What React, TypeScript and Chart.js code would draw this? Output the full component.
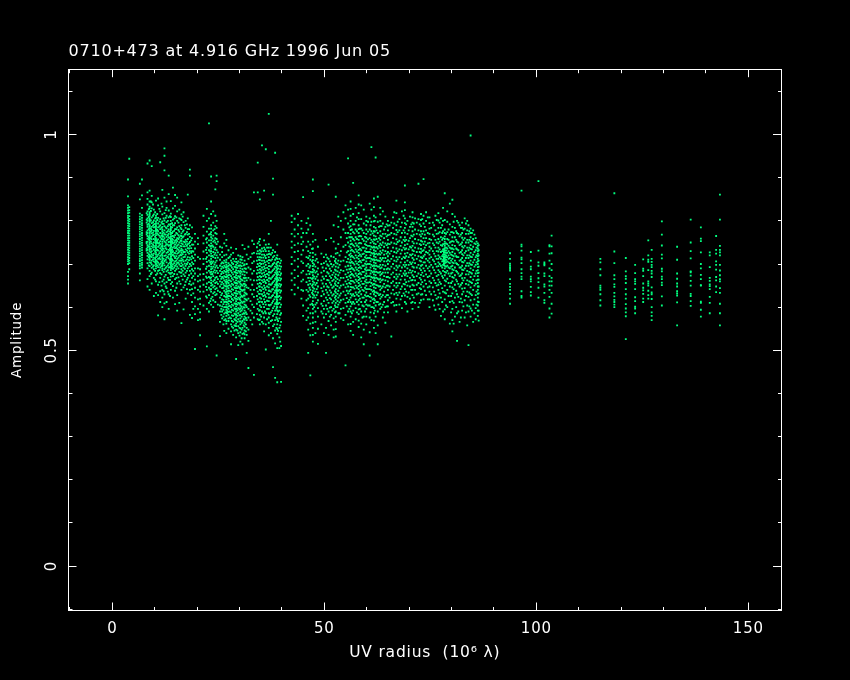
import React, { useEffect, useRef } from "react";
import { Chart, registerables } from "chart.js";

Chart.register(...registerables);

type Track = [number, number[]];

const chartTitle = "0710+473 at 4.916 GHz 1996 Jun 05";
const xLabel = "UV radius  (10\u2076 \u03bb)";
const yLabel = "Amplitude";

// Each track: UV radius, then amplitudes in thousandths.
const bandNear: Track[] = [
  [3.7, [655,664,672,682,700,706,711,716,722,727,733,738,744,749,755,760,766,772,777,783,789,795,801,807,812,818,824,830,836,857,896]],
  [4.0, [688,702,708,714,720,726,731,737,743,749,754,760,766,771,777,782,788,793,799,804,811,819,825,832,944]],
  [6.5, [662,678,690,696,701,707,712,718,724,730,735,741,747,752,758,764,769,775,781,786,792,798,804,810,817,850,886]],
  [7.0, [692,698,703,709,715,721,726,732,738,744,749,755,761,767,772,778,784,790,795,801,807,813,830,859,896]],
  [8.3, [648,665,690,702,711,719,726,733,739,744,752,759,765,772,778,786,791,800,806,814,822,838,851,866,933]],
  [8.8, [640,672,684,695,704,712,721,729,737,746,754,762,770,778,783,790,798,805,812,820,833,845,870,940]],
  [9.3, [655,680,691,699,708,716,723,730,741,748,757,764,771,779,786,795,808,829,843,858,927]],
  [9.8, [626,668,688,697,706,715,724,733,742,750,758,768,777,785,792,801,815,826]],
  [10.3, [633,660,675,690,700,709,716,726,735,744,751,760,767,775,782,790,799,812,847]],
  [10.8, [581,628,652,684,693,703,712,722,731,740,748,757,768,776,785,794,807,836,852]],
  [11.3, [612,637,668,679,692,701,711,719,729,737,746,753,762,772,781,790,804,822,936]],
  [11.8, [600,622,640,660,690,700,708,716,725,736,744,752,763,771,780,793,815,833,872]],
  [12.3, [572,609,630,655,671,688,697,707,719,730,741,752,760,769,778,788,801,818,854,917,951,968]],
  [12.8, [612,644,658,683,694,704,715,726,734,746,755,763,774,783,797,812,830,845]],
  [13.3, [596,630,663,680,692,701,713,722,733,742,751,762,770,780,792,808,824,905,862]],
  [13.8, [640,654,671,686,698,709,717,728,739,749,758,768,779,786,800,817,846]],
  [14.3, [622,649,672,689,699,708,721,730,738,748,756,765,775,790,803,829,877]],
  [14.8, [607,638,665,684,696,706,714,725,737,745,754,767,781,795,811,835,860]],
  [15.3, [592,628,655,676,694,703,712,724,735,743,753,760,770,785,800,822,854]],
  [15.8, [610,660,682,699,708,719,729,738,750,762,775,788,806,826]],
  [16.3, [563,640,672,688,702,713,726,735,748,759,771,790,815,843]],
  [16.8, [595,646,676,692,706,716,728,741,752,764,778,797,820]],
  [17.3, [620,659,680,696,708,722,734,746,756,770,784,800]],
  [17.8, [632,668,690,704,716,727,737,746,758,768,781,806,861]],
  [18.3, [582,640,660,684,700,715,730,742,751,763,790,905,919]],
  [18.8, [575,612,642,668,688,704,718,730,745,760,785]],
  [19.5, [503,584,602,622,645,664,678,690,708,722,736,752,770]],
  [20.2, [570,596,618,640,660,672,690,716,746,760]],
  [20.7, [535,572,588,607,620,636,648,662,676,688,712]],
];

const bandNearCore: Track[] = [
  [8.1, [731,735,748,751,769,774,796,803,818]],
  [8.6, [697,716,723,741,757,762,781,793,809,827]],
  [9.1, [677,703,718,727,735,752,760,775,782,801,823,845]],
  [9.6, [694,711,720,738,745,767,773,789,797,812,838]],
  [10.1, [664,684,704,712,729,739,755,763,786,793,806,820]],
  [10.6, [678,697,706,718,733,750,754,771,779,802,816]],
  [11.1, [658,686,698,714,725,743,749,766,787,799,828]],
  [11.6, [650,676,695,705,722,733,741,758,766,784,796,840]],
  [12.1, [637,664,682,702,712,727,735,756,764,773,793,806]],
  [12.6, [648,675,691,710,720,737,743,750,768,785,807,825]],
  [13.1, [636,668,686,697,717,728,745,757,767,776,788,800]],
  [13.6, [626,663,678,693,704,710,723,731,736,744,752,760,775,791,811]],
  [13.9, [690,696,702,706,712,718,724,732,741,746,754,764,772]],
  [14.1, [658,680,694,711,727,734,751,759,772,785,795]],
  [14.6, [677,692,702,718,726,741,750,762,777,790,806]],
  [15.1, [645,668,688,699,708,718,730,739,749,756,772,781,808]],
  [15.6, [669,690,703,715,726,733,745,758,767,779,796]],
  [16.1, [654,680,695,708,721,731,742,754,766,784,804]],
  [16.6, [664,684,698,710,723,732,746,762,775,810]],
  [17.1, [651,672,689,701,717,728,741,751,768,790]],
  [17.6, [642,664,684,700,711,731,742,752,774,792]],
  [18.1, [654,674,694,709,724,736,748,770,781]],
  [18.6, [628,652,678,696,711,726,737,755]],
  [19.1, [596,632,655,672,684,700,714,729,745]],
];

const bandMid: Track[] = [
  [21.5, [604,636,652,664,677,700,712,729,748,766,786,812]],
  [22.3, [509,596,622,640,655,668,680,694,705,716,726,738,750,760,775,800,828]],
  [22.8, [590,610,628,645,658,670,684,696,708,720,732,744,755,768,782,806,1026]],
  [23.3, [606,620,636,650,662,676,688,700,712,724,736,748,762,774,790,816,845,903]],
  [23.8, [600,616,632,646,660,672,682,694,706,716,728,740,752,766,778,796,822]],
  [24.3, [612,628,642,656,668,680,692,704,714,726,738,750,760,772,788,812,873]],
  [24.6, [488,630,644,658,670,684,696,708,720,732,746,758,770,784,800,892,905]],
  [25.4, [533,566,590,604,622,635,648,660,672,684,696,710,722,740]],
  [25.9, [574,590,602,618,632,644,658,670,682,694,704,716,728,738]],
  [26.4, [545,570,585,600,612,626,638,650,662,672,684,696,708,720,748,770]],
  [26.9, [540,562,580,594,606,618,630,642,654,664,676,688,698,710,722,742,756]],
  [27.4, [550,568,582,596,608,620,632,644,656,668,680,690,702,714,732]],
  [28.0, [514,544,560,574,588,600,612,624,636,648,660,672,684,696,708,722,738]],
  [28.5, [536,552,566,580,592,604,616,628,640,652,664,676,688,700,712,726]],
  [29.2, [480,530,548,562,576,590,602,614,626,638,650,662,674,686,698,712,735]],
  [29.7, [512,540,556,572,586,598,610,622,636,648,660,672,684,696,706,720]],
  [30.2, [520,542,560,574,590,604,616,630,642,654,666,678,690,704,718]],
  [30.7, [514,538,552,568,584,596,610,624,638,650,662,676,688,702,716,744]],
  [31.2, [528,546,564,578,592,606,620,634,648,660,674,690,708,735]],
  [31.7, [494,536,552,570,584,600,616,630,646,662,680,700,722]],
  [32.1, [459,522,548,576,596,620,644,668,692,712,740]],
  [33.0, [560,586,606,630,652,678,702,724,754]],
  [33.4, [443,576,600,624,640,662,684,706,726,746,866]],
  [34.3, [572,596,618,636,654,670,686,700,716,730,748,866,935]],
  [34.8, [560,582,604,622,640,656,672,688,702,716,732,744,758,850]],
  [35.3, [566,590,612,630,646,662,678,692,708,722,736,975]],
  [35.8, [544,576,600,618,634,650,664,680,694,708,722,738,755,870]],
  [36.2, [502,560,586,606,624,640,656,670,684,698,714,730,745,966]],
  [36.9, [535,552,576,596,614,630,646,660,674,688,702,716,730,746,770,1048]],
  [37.4, [540,568,588,606,622,636,652,666,680,694,708,722,738,800]],
  [37.9, [461,528,556,580,598,614,628,642,658,672,686,700,716,732,898,861]],
  [38.4, [436,516,546,570,592,608,624,638,652,666,680,694,710,728,958]],
  [38.9, [426,505,538,560,584,600,616,632,646,660,674,688,704,720,745]],
  [39.4, [505,530,552,574,592,610,626,640,654,668,682,696,712]],
  [39.8, [427,510,544,566,586,606,622,638,652,666,678,694,708]],
];

const bandMidCore: Track[] = [
  [22.1, [625,647,671,689,712,733,757]],
  [23.1, [614,641,667,680,704,729,741,770]],
  [23.6, [624,652,677,690,703,719,743,759]],
  [24.1, [635,649,663,686,699,722,734,755,781]],
  [24.9, [606,638,654,665,679,691,715,727,752]],
  [25.7, [582,596,612,628,653,666,677,689,701]],
  [26.2, [560,578,594,607,617,645,654,667,679,691,702]],
  [26.7, [572,588,600,613,624,634,649,659,670,682,693,704]],
  [27.1, [586,591,599,611,624,627,637,648,659,672,684,694]],
  [27.7, [576,590,603,614,626,638,651,662,675,687,698,717]],
  [28.2, [555,568,581,594,606,619,630,642,654,667,680,692,703]],
  [28.8, [546,558,572,585,597,609,622,633,646,658,670,682,694,706]],
  [29.0, [557,570,583,596,608,620,632,644,656,669,681,693]],
  [29.5, [546,566,580,593,606,618,631,644,655,667,679,691,702]],
  [30.0, [534,552,567,581,595,608,619,634,645,658,670,682,696]],
  [30.5, [528,548,564,578,592,601,613,626,640,652,664,682,695,710]],
  [31.0, [540,558,572,586,600,613,627,640,654,668,683,697]],
  [31.5, [544,560,575,588,604,618,632,651,668,689]],
  [32.6, [570,592,614,640,664,688,716]],
  [34.1, [584,608,626,644,662,678,693,708,724,739]],
  [34.6, [570,592,612,631,648,664,680,695,710,724,752]],
  [35.1, [578,600,620,638,654,670,685,700,715,729]],
  [35.6, [562,586,607,626,642,658,672,687,701,715,730]],
  [36.0, [590,612,628,645,660,675,690,704,719,734]],
  [36.5, [572,596,615,632,648,663,677,691,706,722,738]],
  [37.1, [584,604,622,638,653,667,681,695,709,724]],
  [37.7, [570,592,610,626,641,655,669,683,697,711,726]],
  [38.2, [560,584,602,618,633,647,661,675,689,703,719]],
  [38.7, [552,576,596,610,622,634,642,650,656,664,670,678,684,692,700,714]],
  [38.8, [600,606,612,618,626,630,638,646,652,660,668,676]],
  [39.1, [545,568,590,608,624,638,650,663,676,690,705]],
  [39.6, [520,558,582,600,618,634,648,662,674,688,702]],
];

const bandFar: Track[] = [
  [42.3, [640,662,678,700,716,738,752,770,797,812]],
  [43.0, [630,652,668,686,708,728,744,764,780,805]],
  [43.8, [645,672,694,712,730,748,770,790,816]],
  [44.6, [620,640,660,680,706,722,746,762,782,800]],
  [45.0, [580,604,638,664,684,702,732,752,772,855]],
  [45.8, [570,592,616,640,658,676,696,716,740,772,795]],
  [46.2, [494,548,576,598,620,636,652,668,684,700,714,730,752,780,806]],
  [46.7, [442,535,562,586,606,624,640,654,668,682,696,710,726,745,790]],
  [47.3, [520,552,576,596,614,630,646,660,674,688,702,716,736,770,869,896]],
  [47.9, [540,566,590,606,622,636,652,666,680,694,708,722,756]],
  [48.5, [515,550,578,598,616,634,648,662,676,690,704,740]],
  [49.3, [560,590,608,626,644,662,680,700,724]],
  [49.9, [540,576,596,614,630,648,666,684,702,716]],
  [50.4, [494,552,584,604,622,640,654,672,690,706,722,756]],
  [51.0, [536,568,590,610,628,646,662,678,696,712,884]],
  [51.6, [558,582,600,618,634,652,668,684,700,718,760]],
  [52.2, [530,548,574,596,614,630,648,664,680,698,716,752,790]],
  [52.7, [532,566,590,610,626,642,660,676,694,712,736,856]],
  [53.3, [586,606,622,638,656,674,692,708,746,786,810]],
  [53.9, [574,596,616,632,650,668,686,706,730,762,800]],
  [54.5, [570,598,618,636,652,668,684,708,740,780,820]],
  [55.0, [465,582,610,628,646,660,676,694,716,744,772,806,836]],
  [55.6, [560,590,612,632,648,664,680,696,712,730,750,772,794,826,945]],
  [56.2, [545,578,602,622,640,654,668,682,696,710,724,738,754,770,788,812,845]],
  [56.8, [536,566,592,612,630,646,660,674,688,702,716,730,744,758,774,792,816,888]],
  [57.4, [572,598,618,634,650,664,678,692,706,720,734,748,762,780,800,830]],
  [58.1, [554,584,606,626,642,656,670,684,698,712,726,740,756,772,790,818,859]],
  [58.7, [530,562,590,612,630,646,660,676,690,704,718,732,748,764,782,804,836]],
  [59.3, [514,548,578,602,622,638,654,668,682,696,710,724,738,754,772,794,826]],
  [59.9, [560,596,616,634,650,664,678,692,706,720,736,752,770,790,810]],
  [60.7, [488,542,576,604,624,642,658,672,686,700,714,728,742,760,780,806,840]],
  [61.1, [570,600,622,640,656,670,684,698,712,726,740,756,776,798,826,971]],
  [61.7, [552,586,610,630,646,662,676,690,704,718,732,748,766,786,812,852]],
  [62.1, [540,578,604,626,644,660,674,688,702,716,730,746,764,784,808,947]],
  [62.6, [514,558,590,612,632,650,666,680,694,708,722,736,752,772,798,856]],
  [63.2, [596,620,640,658,674,690,706,722,738,756,776,800,830]],
  [63.8, [576,606,628,648,664,680,698,714,732,750,770,794,822]],
  [64.4, [564,600,624,646,662,680,696,714,730,748,770,786,810]],
  [65.0, [588,616,640,660,680,700,718,738,756,778,800]],
  [65.8, [532,610,632,656,676,694,712,730,750,772,796]],
  [66.5, [604,630,650,670,690,708,728,748,770,794,820]],
  [67.0, [590,620,646,666,686,706,726,746,768,790,847]],
  [67.7, [606,634,656,676,696,716,734,754,778,804]],
  [68.3, [598,626,648,672,692,712,732,750,772,796,822]],
  [69.0, [612,642,664,684,704,724,744,762,784,806,843,882]],
  [69.6, [590,624,650,672,690,708,726,746,770,800]],
  [70.2, [620,648,668,686,704,722,740,760,786,810]],
  [70.8, [596,628,652,674,694,714,732,752,776,796,820]],
  [71.4, [610,640,662,682,702,720,738,758,780,806]],
  [72.2, [600,632,656,678,698,718,736,756,778,804,886]],
  [72.8, [616,642,664,686,706,726,744,764,788,816]],
  [73.4, [618,648,672,690,704,718,732,746,760,776,794,812,897]],
  [74.0, [628,654,676,696,712,728,744,760,778,800,820]],
  [74.8, [600,636,660,684,704,722,740,758,782,808]],
  [75.6, [616,646,668,692,710,730,748,768,796]],
  [76.2, [594,628,656,680,700,718,738,756,778,812]],
  [76.9, [606,640,664,686,704,720,738,758,784,818]],
  [77.5, [580,622,654,678,696,712,728,744,762,784,806]],
  [78.0, [590,636,668,684,698,710,722,734,746,760,776,800,830]],
  [78.4, [572,618,650,674,690,702,712,722,732,742,752,764,780,864]],
  [79.0, [600,640,666,684,696,706,716,726,736,746,758,774,798,822]],
  [79.6, [562,612,648,672,690,702,714,726,738,750,768,792,840]],
  [80.2, [544,596,632,660,680,696,712,728,744,762,786,849]],
  [80.8, [578,622,652,674,692,708,724,742,762,784,810]],
  [81.3, [522,586,630,660,682,700,716,734,752,772,800]],
  [81.9, [566,612,648,672,692,708,726,744,764,790]],
  [82.5, [592,630,656,678,696,714,732,750,772,796]],
  [83.1, [576,616,644,668,690,708,726,742,760,782,806]],
  [83.7, [558,604,636,662,684,702,720,738,756,778,800]],
  [84.0, [512,590,624,652,676,696,714,732,750,770,790]],
  [84.5, [578,616,646,670,690,708,726,744,762,782,998]],
  [85.1, [566,606,640,664,686,704,722,740,758,778]],
  [85.7, [572,598,628,654,678,698,716,732,746,760]],
  [86.2, [580,604,622,640,656,672,686,700,712,724,736,748]],
  [86.4, [569,592,612,632,648,664,680,694,708,720,732,744]],
];

const bandFarCore: Track[] = [
  [46.5, [628,645,661,677,692,719]],
  [47.1, [608,633,650,666,681,706,735]],
  [47.6, [600,627,643,657,671,685,699]],
  [48.2, [610,628,642,656,671,683,712]],
  [49.6, [585,603,637,655,671,692]],
  [50.7, [596,617,634,648,663,681,699,715]],
  [51.3, [578,599,621,639,657,672,689,706]],
  [51.9, [592,610,627,645,661,675,694]],
  [52.5, [588,604,622,637,655,671,687,707]],
  [53.1, [600,614,631,649,665,683,701,726]],
  [53.6, [586,611,627,645,662,680,698,720]],
  [55.3, [602,621,638,654,670,687,705,727,760]],
  [55.9, [596,617,637,656,672,688,704,721,741,762,785]],
  [56.5, [586,608,627,646,661,677,691,705,719,733,747,762,780]],
  [57.1, [608,626,643,657,671,685,699,713,727,741,755,771,792]],
  [57.7, [588,612,629,645,660,673,687,701,715,729,743,758,776,808]],
  [58.4, [596,620,637,651,666,679,693,707,722,735,749,765,782]],
  [59.0, [576,604,622,640,654,668,682,696,709,723,738,758,778]],
  [59.6, [590,612,628,645,660,673,688,701,716,730,746,763]],
  [60.3, [604,626,642,657,672,686,700,714,728,742,757,775,798]],
  [60.9, [588,614,631,649,664,678,692,706,720,734,749,768,790]],
  [61.4, [600,618,636,652,668,681,695,710,724,738,752,771]],
  [61.9, [592,616,635,653,667,682,696,709,723,738,756,775,800]],
  [62.3, [612,634,651,668,682,696,710,724,739,758,778]],
  [62.9, [606,628,648,664,680,694,708,724,742,760,786]],
  [63.5, [600,624,644,662,677,692,710,726,744,764,788]],
  [64.1, [588,612,636,654,672,688,706,722,740,760,780]],
  [64.7, [602,628,650,670,688,706,724,744,764,792]],
  [65.4, [622,648,668,688,706,724,746,768,790]],
  [66.2, [612,640,660,680,700,718,738,760,784,808]],
  [67.3, [628,650,671,692,711,730,751,774,798]],
  [68.0, [618,642,664,684,704,724,742,762,786]],
  [68.7, [632,654,678,698,716,738,756,778,812]],
  [69.3, [608,636,658,678,698,718,736,756,792]],
  [69.9, [634,660,680,698,716,734,754,778]],
  [70.5, [610,640,662,680,700,720,738,766,792]],
  [71.1, [622,650,670,692,710,730,748,768,794]],
  [71.8, [630,652,672,692,712,728,748,770,796]],
  [72.5, [610,644,668,690,708,728,746,768,792]],
  [73.1, [630,658,680,698,714,730,752,770,804]],
  [73.7, [638,662,684,704,722,738,752,768,786]],
  [74.4, [618,646,670,690,708,726,748,772,808]],
  [75.2, [630,656,678,698,716,736,756,784]],
  [75.9, [604,636,662,686,706,724,744,764,790]],
  [76.5, [620,650,672,694,712,730,750,770,802]],
  [77.2, [596,632,658,682,700,716,734,752,774,796]],
  [77.8, [612,644,672,692,706,718,730,742,756,772,790]],
  [78.2, [698,702,706,709,714,717,722,726,730,734]],
  [78.7, [604,632,660,680,694,704,710,716,720,726,731,738,748,770]],
  [79.3, [626,656,678,692,704,712,720,730,742,756,780]],
  [79.9, [588,626,656,678,694,708,722,736,752,774]],
  [80.5, [562,610,642,668,686,702,718,734,752,772,798]],
  [81.1, [600,638,664,684,702,718,736,756,776]],
  [81.6, [590,624,654,678,698,716,732,750,770,796]],
  [82.2, [576,620,652,674,692,710,728,746,768,784]],
  [82.8, [602,636,662,686,704,720,738,756,780]],
  [83.4, [588,626,654,676,696,714,730,750,770,794]],
  [84.2, [602,634,660,682,702,720,738,756,776]],
  [84.8, [592,628,656,678,698,716,734,752,772]],
  [85.4, [586,618,650,672,694,710,728,748,768]],
  [85.9, [606,636,662,684,704,720,738,752]],
];

// Clumped readings that sit on the strongest vertical stripes.
const bandStripes: Track[] = [
  [8.8, [709,717,733,741,749,758,766,774,787,802,816,829]],
  [10.3, [695,705,722,731,739,748,756,771,779,786,795,807]],
  [11.8, [686,696,704,712,720,731,740,748,757,767,776,786,799]],
  [13.8, [678,692,703,713,722,734,744,753,763,773,783,793,809]],
  [16.3, [680,695,708,720,731,741,754,765,781,802]],
  [23.3, [642,656,669,682,694,706,718,730,742,755,768,782]],
  [26.9, [568,587,600,612,624,636,648,659,670,682,693,704]],
  [27.4, [574,589,602,614,626,638,650,662,674,685,696]],
  [29.2, [556,569,583,596,608,620,632,644,656,668,680,692,705]],
  [30.2, [551,567,582,597,610,623,636,648,660,672,684,697,711]],
  [31.2, [537,555,571,585,599,613,627,641,654,667,682,699]],
  [34.8, [571,593,613,631,648,664,680,695,709,724]],
  [36.9, [564,586,605,622,638,653,667,681,695,709,723,738]],
  [38.9, [549,572,592,608,624,639,653,667,681,696,712]],
  [47.3, [536,564,586,605,622,638,653,667,681,695,709,726,752]],
  [52.7, [549,578,600,618,634,651,668,685,703,724]],
  [56.2, [561,590,612,631,647,661,675,689,703,717,731,746,762,779,800,828]],
  [58.1, [569,595,616,634,649,663,677,691,705,719,733,748,764,781,804,838]],
  [59.9, [578,606,625,642,657,671,685,699,713,728,744,761,780,800]],
  [61.7, [569,598,620,638,654,669,683,697,711,725,740,757,776,799,832]],
  [63.2, [608,630,649,666,682,698,714,730,747,766,788,815]],
  [65.0, [602,628,650,670,690,709,728,747,767,789]],
  [67.0, [605,633,656,676,696,716,736,757,779,818]],
  [69.0, [627,653,674,694,714,734,753,773,795,825]],
  [70.8, [612,640,663,684,704,723,742,764,786,808]],
  [72.8, [629,653,675,696,716,735,754,776,802]],
  [74.8, [618,648,672,694,713,731,749,770,795]],
  [76.9, [623,652,675,695,712,729,748,771,801]],
  [78.4, [595,634,662,682,696,707,717,727,737,747,758,772,802]],
  [80.2, [570,614,646,670,688,704,720,736,753,774,816]],
  [82.5, [611,643,667,687,705,723,741,761,784]],
  [84.5, [597,631,658,680,699,717,735,753,772]],
  [86.2, [592,613,631,648,664,679,693,706,718,730,742]],
];

const bandGapLeft: Track[] = [
  [93.8, [608,620,631,640,647,654,665,685,689,693,697,701,712,725]],
  [96.5, [622,626,637,665,671,679,688,702,711,715,731,741,745,870]],
  [98.7, [627,635,647,660,665,671,688,694,708,728]],
  [100.5, [622,645,658,667,679,696,704,731,892]],
  [101.9, [610,616,633,648,653,672,678,697,700,704]],
  [103.1, [576,597,624,640,650,660,672,690,708,724,741,744]],
  [103.6, [585,608,633,650,660,668,686,700,725,741,766]],
];

const bandGapRight: Track[] = [
  [115.1, [604,616,630,640,645,650,674,688,704,712]],
  [118.4, [600,606,612,617,625,633,647,653,665,674,702,729,864]],
  [121.1, [526,579,588,597,607,620,630,642,656,666,672,683,714]],
  [123.3, [586,597,601,614,623,642,654,660,665,679,698]],
  [125.2, [612,620,631,639,645,655,672,684,689,711]],
  [126.4, [620,628,638,650,655,660,686,705,710,720,755]],
  [127.2, [570,580,588,600,619,630,634,646,670,678,684,693,698,705,712,733]],
  [129.6, [604,625,651,657,665,671,683,689,713,722,743,768,799]],
  [133.2, [558,611,632,627,637,648,655,666,678,710,740]],
  [136.4, [603,614,626,631,650,661,673,681,683,713,730,750,803]],
  [138.8, [578,594,610,613,651,650,665,675,690,700,727,753,759,785]],
  [140.9, [586,610,624,642,653,649,661,668,693,727,720]],
  [142.4, [635,648,662,670,687,698,706,724,733,765]],
  [143.3, [558,586,608,633,644,660,665,674,685,698,720,727,733,742,803,861]],
];

const allTracks = [
  ...bandNear, ...bandNearCore, ...bandMid, ...bandMidCore,
  ...bandFar, ...bandFarCore, ...bandStripes, ...bandGapLeft, ...bandGapRight,
];

const isMultiple = (v: number, step: number) => Math.abs(v / step - Math.round(v / step)) < 1e-6;

export default function App() {
  const ref = useRef<HTMLCanvasElement>(null);
  useEffect(() => {
    const white = "#ffffff";
    const font = { family: "'DejaVu Sans'", size: 15, weight: "normal" as const };
    const points = allTracks.flatMap(([x, ys]) => ys.map((y) => ({ x, y: y / 1000 })));
    const tickDash = (step: number, startsAtTip: boolean) => (c: any) => {
      if (isMultiple(c.tick.value, step)) return [];
      return startsAtTip ? [0, 4, 4, 100] : [4, 100];
    };
    const tickLabel = (step: number) => (v: any) => (isMultiple(Number(v), step) ? String(+Number(v).toFixed(1)) : "");
    const xRange = { min: -10.33, max: 157.7 };
    const yRange = { min: -0.103, max: 1.1516 };
    const xTicks = { stepSize: 10, includeBounds: false, autoSkip: false, maxRotation: 0, minRotation: 0 };
    const yTicks = { stepSize: 0.1, includeBounds: false, autoSkip: false };
    const letterSpacing = {
      id: "letterSpacing",
      beforeDraw(chart: any) {
        chart.ctx.letterSpacing = "0.8px";
      },
    };
    const chart = new Chart(ref.current!, {
      type: "scatter",
      data: {
        datasets: [
          {
            data: points,
            backgroundColor: "rgb(0,255,127)",
            borderWidth: 0,
            pointStyle: "rect",
            pointRadius: 1.3,
            pointHoverRadius: 1.3,
          },
        ],
      },
      plugins: [letterSpacing],
      options: {
        animation: false,
        responsive: false,
        devicePixelRatio: 1,
        layout: { padding: 0 },
        plugins: {
          legend: { display: false },
          tooltip: { enabled: false },
          title: {
            display: true,
            text: chartTitle,
            align: "start",
            fullSize: false,
            color: white,
            font: { ...font, size: 16 },
            padding: { top: 42, bottom: 8 },
          },
        },
        scales: {
          x: {
            type: "linear",
            position: "bottom",
            ...xRange,
            afterFit: (s: any) => { s.height = 69.5; },
            border: { color: white, width: 1 },
            grid: { drawOnChartArea: false, tickLength: -8, tickColor: white, tickBorderDash: tickDash(50, false) },
            ticks: { ...xTicks, color: white, font, padding: 18, callback: tickLabel(50) },
            title: { display: true, text: xLabel, color: white, font: { ...font, size: 15.5 }, padding: { top: 0, bottom: 18 } },
          },
          xTop: {
            type: "linear",
            position: "top",
            ...xRange,
            afterFit: (s: any) => { s.height = 0; },
            border: { color: white, width: 1 },
            grid: { drawOnChartArea: false, tickLength: -8, tickColor: white, tickBorderDash: tickDash(50, true) },
            ticks: { ...xTicks, display: false },
          },
          y: {
            type: "linear",
            position: "left",
            ...yRange,
            afterFit: (s: any) => { s.width = 68.5; },
            border: { color: white, width: 1 },
            grid: { drawOnChartArea: false, tickLength: -8, tickColor: white, tickBorderDash: tickDash(0.5, true) },
            ticks: { ...yTicks, color: white, font, minRotation: 90, maxRotation: 90, crossAlign: "center", padding: 12, callback: tickLabel(0.5) },
            title: { display: true, text: yLabel, color: white, font: { ...font, size: 13.5 }, padding: { top: 9, bottom: 0 } },
          },
          yRight: {
            type: "linear",
            position: "right",
            ...yRange,
            afterFit: (s: any) => { s.width = 69; },
            border: { color: white, width: 1 },
            grid: { drawOnChartArea: false, tickLength: -8, tickColor: white, tickBorderDash: tickDash(0.5, false) },
            ticks: { ...yTicks, display: false },
          },
        },
      } as any,
    } as any);
    return () => chart.destroy();
  }, []);
  return (
    <div style={{ position: "absolute", left: 0, top: 0, width: 850, height: 680, background: "#000" }}>
      <canvas ref={ref} width={850} height={680} style={{ display: "block" }} />
    </div>
  );
}
